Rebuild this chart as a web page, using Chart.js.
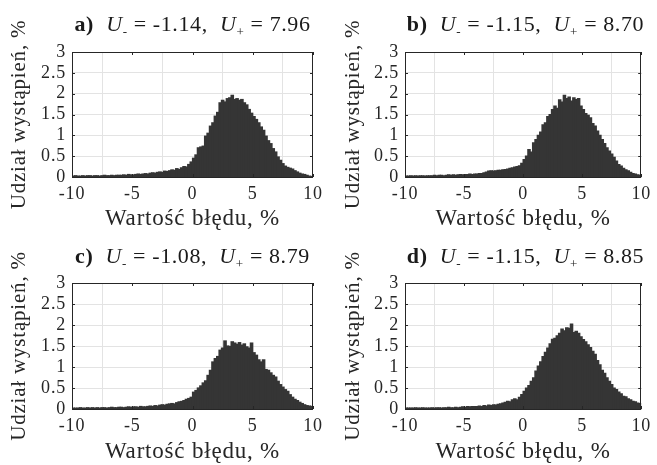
<!DOCTYPE html>
<html>
<head>
<meta charset="utf-8">
<script src="https://cdn.jsdelivr.net/npm/chart.js@4.4.0/dist/chart.umd.min.js"></script>
<style>
  body { margin: 0; background: #fff; width: 657px; height: 465px; position: relative; overflow: hidden; }
  canvas { position: absolute; }
  .ttl { position: absolute; text-align: center; white-space: nowrap; font-family: "Liberation Serif", serif; font-size: 22px; line-height: 24px; letter-spacing: 0.6px; color: #1a1a1a; }
  .ttl sub { font-size: 13px; line-height: 0; }
</style>
</head>
<body>
<canvas id="chA" width="329" height="232" style="left:0;top:0"></canvas>
<canvas id="chB" width="323" height="232" style="left:334px;top:0"></canvas>
<canvas id="chC" width="329" height="233" style="left:0;top:232px"></canvas>
<canvas id="chD" width="323" height="233" style="left:334px;top:232px"></canvas>

<div class="ttl" style="left:72px;top:12px;width:241px"><b>a)</b>&nbsp; <i>U</i><sub>-</sub> = -1.14,&nbsp; <i>U</i><sub>+</sub> = 7.96</div>
<div class="ttl" style="left:405px;top:12px;width:241px"><b>b)</b>&nbsp; <i>U</i><sub>-</sub> = -1.15,&nbsp; <i>U</i><sub>+</sub> = 8.70</div>
<div class="ttl" style="left:72px;top:244px;width:241px"><b>c)</b>&nbsp; <i>U</i><sub>-</sub> = -1.08,&nbsp; <i>U</i><sub>+</sub> = 8.79</div>
<div class="ttl" style="left:405px;top:244px;width:241px"><b>d)</b>&nbsp; <i>U</i><sub>-</sub> = -1.15,&nbsp; <i>U</i><sub>+</sub> = 8.85</div>

<script>
// histogram bins: width 0.2 %, from -10 to 10
var binWidth = 0.2;
var binCenters = [];
for (var i = 0; i < 100; i++) binCenters.push(+(-9.9 + i * binWidth).toFixed(1));

var xTicks = [-10, -5, 0, 5, 10];
var yTicks = [0, 0.5, 1, 1.5, 2, 2.5, 3];

var histA = [
  0.02,0.03,0.02,0.02,0.03,0.02,0.03,0.03,0.02,0.03,
  0.03,0.02,0.03,0.04,0.03,0.03,0.04,0.03,0.04,0.04,
  0.04,0.05,0.04,0.06,0.05,0.05,0.06,0.07,0.06,0.07,
  0.08,0.07,0.09,0.10,0.09,0.11,0.12,0.11,0.14,0.13,
  0.15,0.17,0.16,0.20,0.18,0.22,0.25,0.24,0.30,0.36,
  0.45,0.53,0.70,0.72,0.74,0.98,1.05,1.22,1.30,1.46,
  1.55,1.78,1.84,1.80,1.88,1.90,1.96,1.86,1.88,1.84,
  1.86,1.78,1.73,1.62,1.53,1.45,1.38,1.30,1.20,1.12,
  0.98,0.87,0.80,0.68,0.60,0.48,0.40,0.32,0.26,0.23,
  0.21,0.19,0.15,0.12,0.09,0.07,0.06,0.04,0.02,0.01
];
var histB = [
  0.02,0.02,0.03,0.02,0.03,0.02,0.03,0.03,0.02,0.03,
  0.03,0.03,0.04,0.03,0.04,0.04,0.03,0.04,0.05,0.04,
  0.05,0.04,0.05,0.06,0.05,0.06,0.06,0.07,0.06,0.07,
  0.07,0.08,0.08,0.10,0.12,0.14,0.15,0.14,0.15,0.16,
  0.16,0.17,0.18,0.19,0.21,0.22,0.24,0.25,0.27,0.33,
  0.42,0.50,0.66,0.60,0.82,0.90,1.00,1.08,1.25,1.30,
  1.45,1.50,1.62,1.70,1.65,1.85,1.80,1.96,1.88,1.92,
  1.82,1.90,1.86,1.88,1.70,1.62,1.52,1.48,1.42,1.28,
  1.22,1.10,1.00,0.90,0.80,0.70,0.62,0.55,0.47,0.38,
  0.30,0.26,0.21,0.17,0.15,0.11,0.08,0.07,0.05,0.04
];
var histC = [
  0.02,0.02,0.02,0.03,0.02,0.02,0.03,0.02,0.03,0.02,
  0.03,0.02,0.03,0.03,0.02,0.03,0.04,0.03,0.03,0.04,
  0.04,0.03,0.04,0.05,0.04,0.05,0.05,0.04,0.06,0.05,
  0.05,0.06,0.07,0.06,0.08,0.07,0.09,0.10,0.09,0.11,
  0.12,0.13,0.12,0.15,0.17,0.18,0.20,0.23,0.25,0.28,
  0.40,0.44,0.50,0.55,0.62,0.67,0.80,0.92,1.12,1.20,
  1.25,1.40,1.45,1.62,1.50,1.49,1.60,1.57,1.54,1.58,
  1.52,1.55,1.48,1.45,1.57,1.34,1.28,1.17,1.12,1.17,
  0.94,0.92,0.86,0.80,0.76,0.66,0.58,0.52,0.46,0.42,
  0.34,0.28,0.23,0.20,0.16,0.13,0.10,0.08,0.07,0.06
];
var histD = [
  0.02,0.02,0.02,0.02,0.03,0.02,0.02,0.03,0.02,0.02,
  0.02,0.03,0.02,0.03,0.03,0.02,0.03,0.03,0.04,0.03,
  0.03,0.04,0.03,0.04,0.05,0.04,0.06,0.05,0.06,0.06,
  0.06,0.07,0.06,0.08,0.07,0.09,0.08,0.10,0.09,0.11,
  0.12,0.14,0.16,0.18,0.17,0.22,0.24,0.22,0.28,0.34,
  0.42,0.50,0.56,0.66,0.74,0.90,1.02,1.12,1.25,1.35,
  1.45,1.55,1.66,1.68,1.74,1.80,1.90,1.86,1.93,1.92,
  2.02,1.82,1.85,1.80,1.72,1.65,1.60,1.53,1.46,1.37,
  1.30,1.15,1.05,0.92,0.85,0.74,0.66,0.58,0.50,0.46,
  0.40,0.36,0.30,0.29,0.24,0.22,0.18,0.17,0.14,0.13
];

var serif = '"Liberation Serif", serif';

// wider letter spacing, closer to the Computer Modern look of the original
var spacingPlugin = {
  id: 'spacing',
  beforeLayout: function(chart) { chart.ctx.letterSpacing = '0.8px'; },
  beforeDraw: function(chart) { chart.ctx.letterSpacing = '0.8px'; }
};

// box round the axes with small inward ticks, like MATLAB
var framePlugin = {
  id: 'frame',
  afterDatasetsDraw: function(chart) {
    var ctx = chart.ctx, a = chart.chartArea;
    var xs = chart.scales.x, ys = chart.scales.y;
    ctx.save();
    ctx.strokeStyle = '#262626';
    ctx.lineWidth = 1;
    ctx.beginPath();
    xTicks.forEach(function(v) {
      var px = Math.round(xs.getPixelForValue(v)) + 0.5;
      ctx.moveTo(px, a.bottom); ctx.lineTo(px, a.bottom - 3);
      ctx.moveTo(px, a.top); ctx.lineTo(px, a.top + 3);
    });
    yTicks.forEach(function(v) {
      var py = Math.round(ys.getPixelForValue(v)) + 0.5;
      ctx.moveTo(a.left, py); ctx.lineTo(a.left + 3, py);
      ctx.moveTo(a.right, py); ctx.lineTo(a.right - 3, py);
    });
    ctx.stroke();
    ctx.strokeRect(Math.round(a.left) + 0.5, Math.round(a.top) + 0.5,
                   Math.round(a.width) - 1, Math.round(a.height));
    ctx.restore();
  }
};

function makeHist(id, values, leftW, rightPad, topPad, bottomH) {
  var pts = binCenters.map(function(x, i) { return { x: x, y: values[i] }; });
  return new Chart(document.getElementById(id), {
    type: 'bar',
    data: {
      datasets: [{
        data: pts,
        backgroundColor: '#353535',
        borderWidth: 0,
        barPercentage: 1.0,
        categoryPercentage: 1.0,
        inflateAmount: 0.6
      }]
    },
    options: {
      responsive: false,
      animation: false,
      layout: { padding: { left: 0, right: rightPad, top: topPad, bottom: 0 } },
      plugins: { legend: { display: false }, tooltip: { enabled: false } },
      scales: {
        x: {
          type: 'linear', min: -10, max: 10, offset: false,
          afterFit: function(s) { s.height = bottomH; },
          afterBuildTicks: function(s) { s.ticks = xTicks.map(function(v) { return { value: v }; }); },
          grid: { color: '#e3e3e3', drawTicks: false },
          border: { display: false },
          ticks: { color: '#262626', font: { family: serif, size: 18 }, padding: 6, maxRotation: 0, autoSkip: false,
                   callback: function(v) { return String(v); } },
          title: { display: true, text: 'Wartość błędu, %', color: '#262626',
                   font: { family: serif, size: 23 }, padding: { top: 0, bottom: -1 } }
        },
        y: {
          min: 0, max: 3,
          afterFit: function(s) { s.width = leftW; },
          afterBuildTicks: function(s) { s.ticks = yTicks.map(function(v) { return { value: v }; }); },
          grid: { color: '#e3e3e3', drawTicks: false },
          border: { display: false },
          ticks: { color: '#262626', font: { family: serif, size: 18 }, padding: 6, autoSkip: false,
                   callback: function(v) { return String(v); } },
          title: { display: true, text: 'Udział wystąpień, %', color: '#262626',
                   font: { family: serif, size: 21 }, padding: { top: 7, bottom: 0 } }
        }
      }
    },
    plugins: [spacingPlugin, framePlugin]
  });
}

makeHist('chA', histA, 72, 16, 52, 55);
makeHist('chB', histB, 71, 11, 52, 55);
makeHist('chC', histC, 72, 16, 51, 56);
makeHist('chD', histD, 71, 11, 51, 56);
</script>
</body>
</html>
